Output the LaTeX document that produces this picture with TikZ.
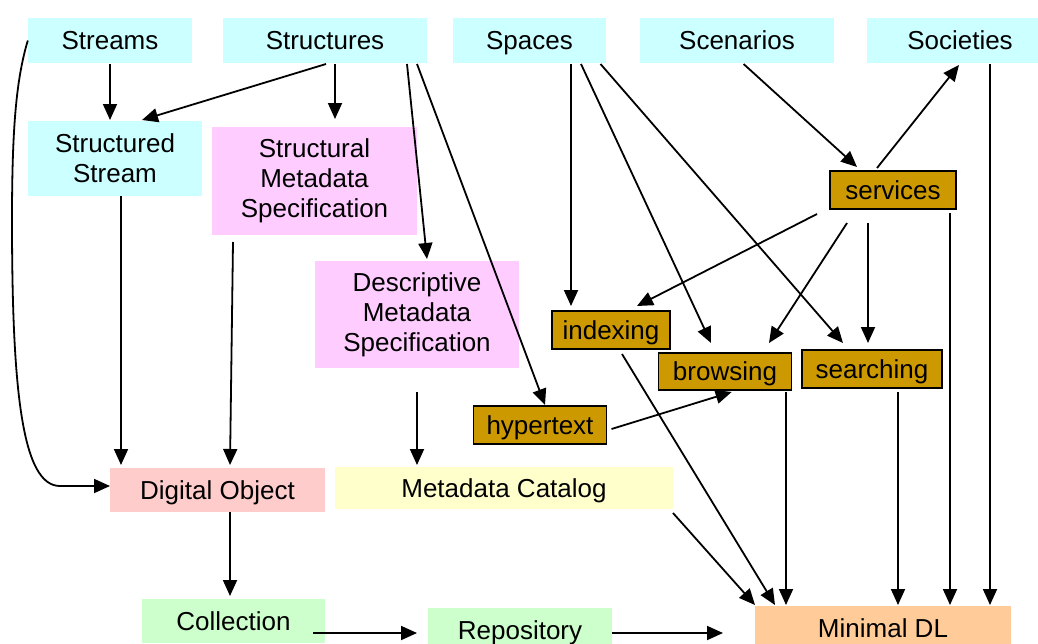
\documentclass[tikz,border=0pt]{standalone}
\usepackage{fontspec}
\setmainfont{Liberation Sans}
\usetikzlibrary{arrows.meta,calc}
\definecolor{cyanbox}{HTML}{CCFFFF}
\definecolor{pinkbox}{HTML}{FFCCFF}
\definecolor{rosebox}{HTML}{FFCCCC}
\definecolor{yellowbox}{HTML}{FFFFCC}
\definecolor{greenbox}{HTML}{CCFFCC}
\definecolor{orangebox}{HTML}{FFCC99}
\definecolor{servbox}{HTML}{CC9900}
\begin{document}
\begin{tikzpicture}[x=1pt,y=-1pt,
  box/.style={inner sep=0pt, align=center, font=\fontsize{26}{30}\selectfont},
  one/.style={box, text height=18pt, text depth=0pt},
  svc/.style={one, draw=black, line width=1.6pt, fill=servbox},
  conn/.style={line width=1.8pt, -{Triangle[length=16pt,width=14pt]}},
]
\fill[white] (0,0) rectangle (1038,643);
\useasboundingbox (0,0) rectangle (1038,643);

% top row
\node[one,fill=cyanbox,minimum width=164pt,minimum height=45pt] (streams) at (110,40.5) {Streams};
\node[one,fill=cyanbox,minimum width=204pt,minimum height=45pt] (structures) at (325,40.5) {Structures};
\node[one,fill=cyanbox,minimum width=153pt,minimum height=45pt] (spaces) at (529.5,40.5) {Spaces};
\node[one,fill=cyanbox,minimum width=194pt,minimum height=45pt] (scenarios) at (737,40.5) {Scenarios};
\node[one,fill=cyanbox,minimum width=186pt,minimum height=45pt] (societies) at (960,40.5) {Societies};

% second level
\node[box,fill=cyanbox,minimum width=174pt,minimum height=75pt] (sstream) at (115,158.5) {Structured\\Stream};
\node[box,fill=pinkbox,minimum width=205pt,minimum height=108pt] (smeta) at (314.5,181) {Structural\\Metadata\\Specification};
\node[box,fill=pinkbox,minimum width=204pt,minimum height=107pt] (dmeta) at (417,314.5) {Descriptive\\Metadata\\Specification};

% services
\node[svc,minimum width=126pt,minimum height=38pt] (services) at (893,190) {services};
\node[svc,minimum width=118pt,minimum height=38pt] (indexing) at (611,330) {indexing};
\node[svc,minimum width=133pt,minimum height=37pt] (browsing) at (725,371.5) {browsing};
\node[svc,minimum width=140pt,minimum height=38pt] (searching) at (872,369) {searching};
\node[svc,minimum width=133pt,minimum height=38pt] (hypertext) at (540,425) {hypertext};

% lower
\node[one,fill=rosebox,minimum width=215pt,minimum height=44pt] (dobj) at (217.5,490) {Digital Object};
\node[one,fill=yellowbox,minimum width=338pt,minimum height=42pt] (mcat) at (504,488) {Metadata Catalog};
\node[one,fill=greenbox,minimum width=183pt,minimum height=44pt] (coll) at (233.5,621) {Collection};
\node[one,fill=greenbox,minimum width=184pt,minimum height=44pt] (repo) at (520,630) {Repository};
\node[one,fill=orangebox,minimum width=256pt,minimum height=44pt] (mdl) at (883,628) {Minimal DL};

% connectors
\draw[conn] ($(streams)+(0,23.5)$) -- ($(sstream)+(-5,-38.5)$);
\draw[conn] ($(structures)+(1,23.5)$) -- ($(sstream)+(27,-38.5)$);
\draw[conn] ($(structures)+(10,23.5)$) -- ($(smeta)+(20.5,-62)$);
\draw[conn] ($(structures)+(82,23.5)$) -- ($(dmeta)+(10,-55.5)$);
\draw[conn] ($(structures)+(92,23.5)$) -- ($(hypertext)+(5,-20)$);
\draw[conn] (streams.west) .. controls (16,80) and (12,130) .. (12,220)
   .. controls (12,390) and (22,486) .. (60,486) -- ($(dobj)+(-107.5,-4)$);
\draw[conn] ($(sstream)+(6,37.5)$) -- ($(dobj)+(-96.5,-25)$);
\draw[conn] ($(smeta)+(-81.5,61)$) -- ($(dobj)+(12.5,-25)$);
\draw[conn] ($(dmeta)+(0,77.5)$) -- ($(mcat)+(-87,-23)$);
\draw[conn] ($(dobj)+(12.5,22)$) -- ($(coll)+(-3.5,-25)$);
\draw[conn] ($(coll)+(79.5,12)$) -- ($(repo)+(-103,3)$);
\draw[conn] ($(repo)+(92,3)$) -- ($(mdl)+(-160,5)$);
\draw[conn] ($(spaces)+(41.5,23.5)$) -- ($(indexing)+(-40,-24)$);
\draw[conn] ($(spaces)+(51.5,23.5)$) -- ($(browsing)+(-14,-28.5)$);
\draw[conn] ($(spaces)+(71,23.5)$) -- ($(searching)+(-29,-26)$);
\draw[conn] ($(scenarios)+(6.6,23.5)$) -- ($(services)+(-36,-23)$);
\draw[conn] ($(services)+(-16,-22)$) -- ($(societies)+(-1,24.5)$);
\draw[conn] ($(services)+(-76,24)$) -- ($(indexing)+(26,-24)$);
\draw[conn] ($(services)+(-46,33)$) -- ($(browsing)+(44,-28.5)$);
\draw[conn] ($(services)+(-25,33)$) -- ($(searching)+(-4,-26)$);
\draw[conn] ($(services)+(57,23)$) -- ($(mdl)+(67,-23)$);
\draw[conn] ($(societies)+(30,23.5)$) -- ($(mdl)+(107,-23)$);
\draw[conn] ($(hypertext)+(71.5,4)$) -- ($(browsing)+(6.6,20.5)$);
\draw[conn] ($(indexing)+(11,24)$) -- ($(mdl)+(-108,-23)$);
\draw[conn] ($(browsing)+(61,20.5)$) -- ($(mdl)+(-97,-23)$);
\draw[conn] ($(searching)+(26,23)$) -- ($(mdl)+(15,-23)$);
\draw[conn] ($(mcat)+(169,25)$) -- ($(mdl)+(-128,-23)$);
\end{tikzpicture}
\end{document}
